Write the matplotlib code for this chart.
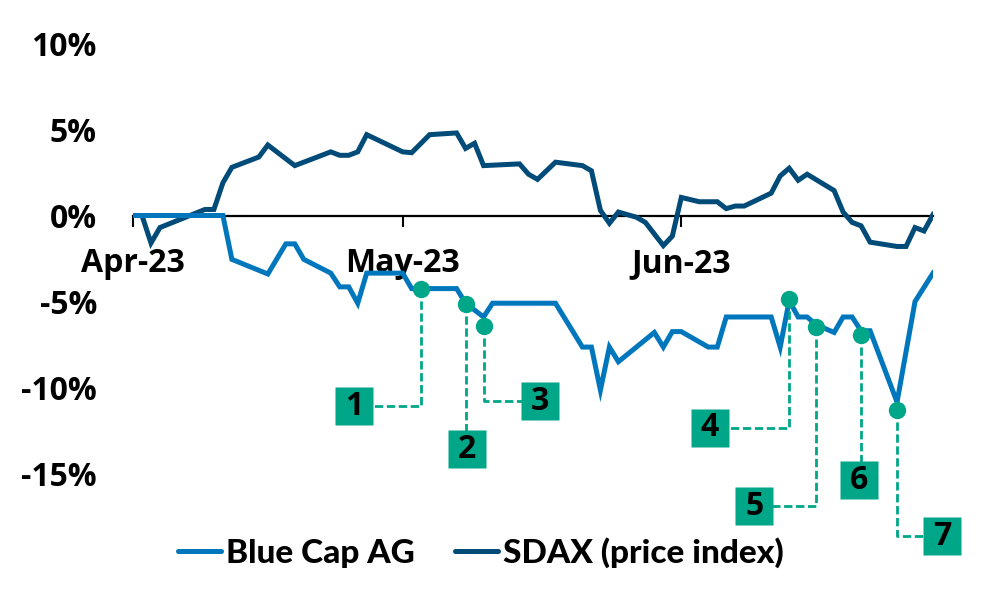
import matplotlib
matplotlib.use("Agg")
import matplotlib.pyplot as plt
import matplotlib.dates as mdates
from matplotlib import font_manager
import pandas as pd

# ---- data (percent change vs. start) ----
sdax_dates = ["2023-04-01", "2023-04-02", "2023-04-03", "2023-04-04", "2023-04-09", "2023-04-10",
              "2023-04-11", "2023-04-12", "2023-04-15", "2023-04-16", "2023-04-19", "2023-04-23",
              "2023-04-24", "2023-04-25", "2023-04-26", "2023-04-27", "2023-05-01", "2023-05-02",
              "2023-05-04", "2023-05-07", "2023-05-08", "2023-05-09", "2023-05-10", "2023-05-14",
              "2023-05-15", "2023-05-16", "2023-05-18", "2023-05-21", "2023-05-22", "2023-05-23",
              "2023-05-24", "2023-05-25", "2023-05-27", "2023-05-28", "2023-05-30", "2023-05-31",
              "2023-06-01", "2023-06-03", "2023-06-05", "2023-06-06", "2023-06-07", "2023-06-08",
              "2023-06-11", "2023-06-12", "2023-06-13", "2023-06-14", "2023-06-15", "2023-06-18",
              "2023-06-19", "2023-06-20", "2023-06-21", "2023-06-22", "2023-06-25", "2023-06-26",
              "2023-06-27", "2023-06-28", "2023-06-29"]
sdax_values = [0.0, 0.0, -1.6, -0.7, 0.35, 0.35,
               1.9, 2.8, 3.4, 4.1, 2.9, 3.7,
               3.5, 3.5, 3.7, 4.7, 3.7, 3.65,
               4.7, 4.8, 3.9, 4.2, 2.9, 3.0,
               2.4, 2.1, 3.1, 2.9, 2.6, 0.3,
               -0.45, 0.2, -0.1, -0.4, -1.75, -1.2,
               1.05, 0.8, 0.8, 0.4, 0.55, 0.55,
               1.3, 2.3, 2.75, 2.05, 2.4, 1.45,
               0.2, -0.4, -0.6, -1.55, -1.8, -1.8,
               -0.7, -0.9, 0.05]

bluecap_dates = ["2023-04-01", "2023-04-11", "2023-04-12", "2023-04-16", "2023-04-18", "2023-04-19",
                 "2023-04-20", "2023-04-23", "2023-04-24", "2023-04-25", "2023-04-26", "2023-04-27",
                 "2023-05-01", "2023-05-02", "2023-05-07", "2023-05-08", "2023-05-10", "2023-05-11",
                 "2023-05-18", "2023-05-21", "2023-05-22", "2023-05-23", "2023-05-24", "2023-05-25",
                 "2023-05-27", "2023-05-29", "2023-05-30", "2023-05-31", "2023-06-01", "2023-06-04",
                 "2023-06-05", "2023-06-06", "2023-06-11", "2023-06-12", "2023-06-13", "2023-06-14",
                 "2023-06-15", "2023-06-16", "2023-06-18", "2023-06-19", "2023-06-20", "2023-06-21",
                 "2023-06-22", "2023-06-25", "2023-06-27", "2023-06-29"]
bluecap_values = [0.0, 0.0, -2.55, -3.4, -1.65, -1.65,
                  -2.55, -3.35, -4.15, -4.15, -5.1, -3.35,
                  -3.35, -4.25, -4.25, -5.1, -5.9, -5.1,
                  -5.1, -7.65, -7.65, -10.15, -7.65, -8.5,
                  -7.65, -6.8, -7.65, -6.75, -6.75, -7.65,
                  -7.65, -5.9, -5.9, -7.65, -4.95, -5.9,
                  -5.9, -6.35, -6.8, -5.9, -5.9, -6.7,
                  -6.7, -10.85, -5.0, -3.35]

event_labels = ["1", "2", "3", "4", "5", "6", "7"]
event_dates = ["2023-05-03", "2023-05-08", "2023-05-10", "2023-06-13", "2023-06-16", "2023-06-21", "2023-06-25"]
event_values = [-4.27, -5.15, -6.4, -4.85, -6.5, -6.95, -11.3]

y_ticks = [-15, -10, -5, 0, 5, 10]

# callout box centres (days after Apr 1, percent) - layout only
box_days = [24.6, 37.2, 45.3, 64.2, 69.1, 80.8, 90.0]
box_pcts = [-11.1, -13.6, -10.8, -12.35, -16.9, -15.4, -18.65]

# ---- style ----
LIGHT = "#0077bd"
DARK = "#004b78"
TEAL = "#00a688"
FONT = ["Open Sans", "DejaVu Sans"]
plt.rcParams["axes.unicode_minus"] = False

# pick the heaviest Lato face available for the legend (narrower than Open Sans)
lato = sorted([f for f in font_manager.fontManager.ttflist if f.name == "Lato"],
              key=lambda f: (f.style != "normal", -int(f.weight) if str(f.weight).isdigit() else 0))
legend_prop = (font_manager.FontProperties(fname=lato[0].fname, size=24) if lato
               else font_manager.FontProperties(family=FONT, weight="bold", size=21))

start = pd.Timestamp("2023-04-01")
end = pd.Timestamp("2023-06-29")

fig = plt.figure(figsize=(9.88, 6.02), dpi=100)
ax = fig.add_axes([133 / 988, 42.5 / 602, 800 / 988, 516 / 602])

ax.plot(pd.to_datetime(sdax_dates), sdax_values, color=DARK, lw=3.6,
        solid_joinstyle="miter", label="SDAX (price index)", zorder=3)
ax.plot(pd.to_datetime(bluecap_dates), bluecap_values, color=LIGHT, lw=3.6,
        solid_joinstyle="miter", label="Blue Cap AG", zorder=4)

# event callouts
for lab, d, v, bd, bp in zip(event_labels, event_dates, event_values, box_days, box_pcts):
    x0 = pd.Timestamp(d)
    bx = start + pd.to_timedelta(bd, unit="D")
    ax.plot([x0, x0, bx], [v, bp, bp], color=TEAL, lw=2.0, dashes=(3.0, 1.3),
            clip_on=False, zorder=5)
    ax.plot([x0], [v], marker="o", ms=12.5, color=TEAL, mec="none", clip_on=False, zorder=6)
    ax.plot([bx], [bp], marker="s", ms=27, color=TEAL, mec="none", clip_on=False, zorder=7)
    ax.text(bx, bp, lab, ha="center", va="center", fontsize=23, fontweight="bold",
            family=FONT, color="black", zorder=8, clip_on=False)

ax.set_xlim(start, end)
ax.set_ylim(-20, 10)

for s in ["left", "right", "top"]:
    ax.spines[s].set_visible(False)
ax.spines["bottom"].set_position(("data", 0))
ax.spines["bottom"].set_linewidth(1.6)
ax.spines["bottom"].set_zorder(2)

ax.xaxis.set_major_locator(mdates.MonthLocator())
ax.xaxis.set_major_formatter(mdates.DateFormatter("%b-%y"))
ax.tick_params(axis="x", direction="out", length=8, width=1.5, pad=15)
for t in ax.get_xticklabels():
    t.set_fontsize(23)
    t.set_fontweight("bold")
    t.set_family(FONT)

ax.set_yticks(y_ticks)
ax.set_yticklabels([f"{v}%" for v in y_ticks])
ax.tick_params(axis="y", length=0, pad=26)
for t in ax.get_yticklabels():
    t.set_fontsize(23)
    t.set_fontweight("bold")
    t.set_family(FONT)

handles, labels = ax.get_legend_handles_labels()
order = [1, 0]
leg = fig.legend([handles[i] for i in order], [labels[i] for i in order],
                 loc="center", bbox_to_anchor=(481 / 988, 1 - 553 / 602), ncol=2, frameon=False,
                 handlelength=1.3, handletextpad=0.15, columnspacing=1.2, prop=legend_prop)
for h in leg.get_lines():
    h.set_solid_capstyle("round")

fig.savefig("out.png", dpi=100)
